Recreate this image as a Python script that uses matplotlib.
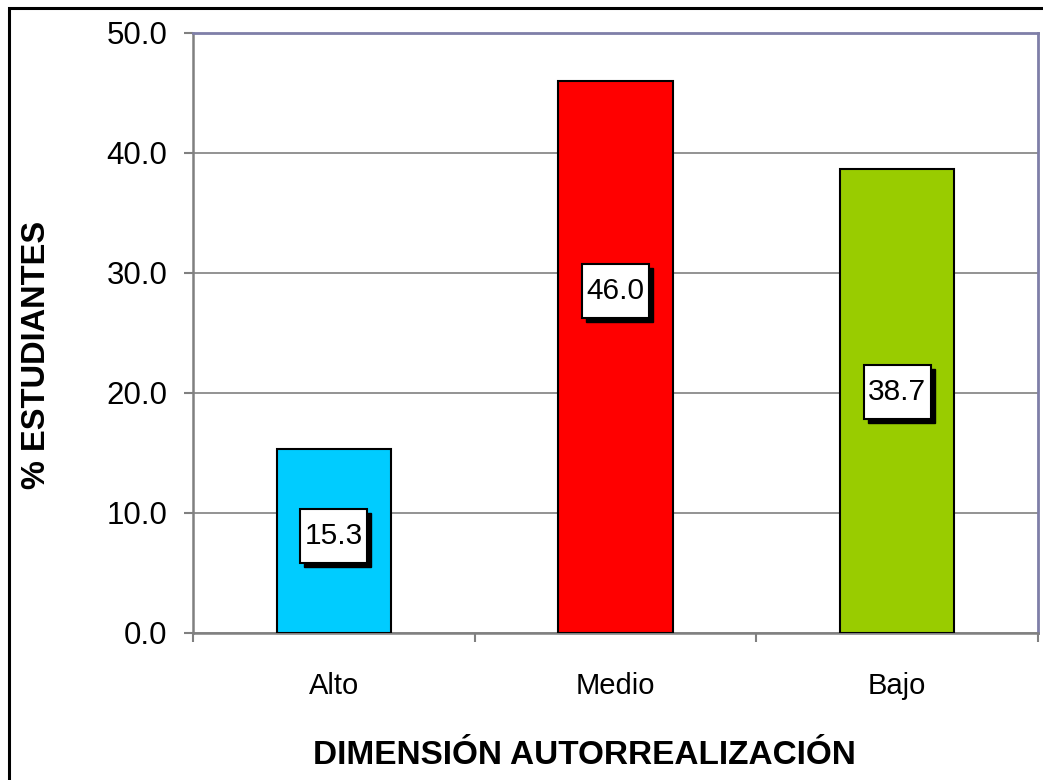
import matplotlib
matplotlib.use("Agg")
import matplotlib.pyplot as plt
import matplotlib.transforms as mtransforms
from matplotlib.patches import Rectangle

# Data
categories = ["Alto", "Medio", "Bajo"]
values = [15.3, 46.0, 38.7]
colors = ["#00CCFF", "#FF0000", "#99CC00"]
label_frac = [0.53, 0.62, 0.52]  # where the value box sits inside each bar

plt.rcParams["font.family"] = ["Liberation Sans", "DejaVu Sans"]

fig = plt.figure(figsize=(10.43, 7.8), dpi=100)
ax = fig.add_axes([193 / 1043, 1 - 633 / 780, (1038 - 193) / 1043, 600 / 780])

x = list(range(len(categories)))
ax.bar(x, values, width=0.405, color=colors, edgecolor="black", linewidth=1.5, zorder=3)

ax.set_xlim(-0.5, len(categories) - 0.5)
ax.set_ylim(0, 50)
ax.set_yticks([0, 10, 20, 30, 40, 50])
ax.set_yticklabels([f"{v:.1f}" for v in [0, 10, 20, 30, 40, 50]], fontsize=22.5)
ax.set_xticks(x)
ax.set_xticklabels(categories, fontsize=21)
ax.tick_params(axis="x", length=0, pad=28)
ax.tick_params(axis="y", length=6.5, width=1.5, color="#808080", pad=12)
ax.set_xticks([-0.5, 0.5, 1.5, 2.5], minor=True)
ax.tick_params(axis="x", which="minor", length=6.5, width=1.5, color="#808080")

ax.yaxis.grid(True, color="#808080", linewidth=1.2, zorder=0)
ax.set_axisbelow(True)
for side in ["left", "bottom"]:
    ax.spines[side].set_color("#808080")
    ax.spines[side].set_linewidth(1.8)
for side in ["top", "right"]:
    ax.spines[side].set_color("#7F7FA8")
    ax.spines[side].set_linewidth(2)

# value boxes with drop shadow
box_w, box_h = 0.238, 4.5
shadow = ax.transData + mtransforms.ScaledTranslation(4 / 100, -4 / 100, fig.dpi_scale_trans)
for xi, v, f in zip(x, values, label_frac):
    yc = v * f
    ax.add_patch(Rectangle((xi - box_w / 2, yc - box_h / 2), box_w, box_h,
                           facecolor="black", edgecolor="black", transform=shadow, zorder=4))
    ax.add_patch(Rectangle((xi - box_w / 2, yc - box_h / 2), box_w, box_h,
                           facecolor="white", edgecolor="black", linewidth=1.5, zorder=5))
    ax.text(xi, yc, f"{v:.1f}", ha="center", va="center", fontsize=21.5, zorder=6)

fig.text(37 / 1043, 1 - 355 / 780, "% ESTUDIANTES", rotation=90, ha="center", va="center",
         fontsize=23.5, fontweight="bold")
fig.text(584 / 1043, 1 - 756 / 780, "DIMENSIÓN AUTORREALIZACIÓN", ha="center", va="center",
         fontsize=24, fontweight="bold")

# outer chart border
fig.add_artist(Rectangle((9 / 1043, -0.1), 1.2, 1 - 8 / 780 + 0.1, transform=fig.transFigure,
                         facecolor="none", edgecolor="black", linewidth=2.2))

plt.savefig("out.png", dpi=100)
